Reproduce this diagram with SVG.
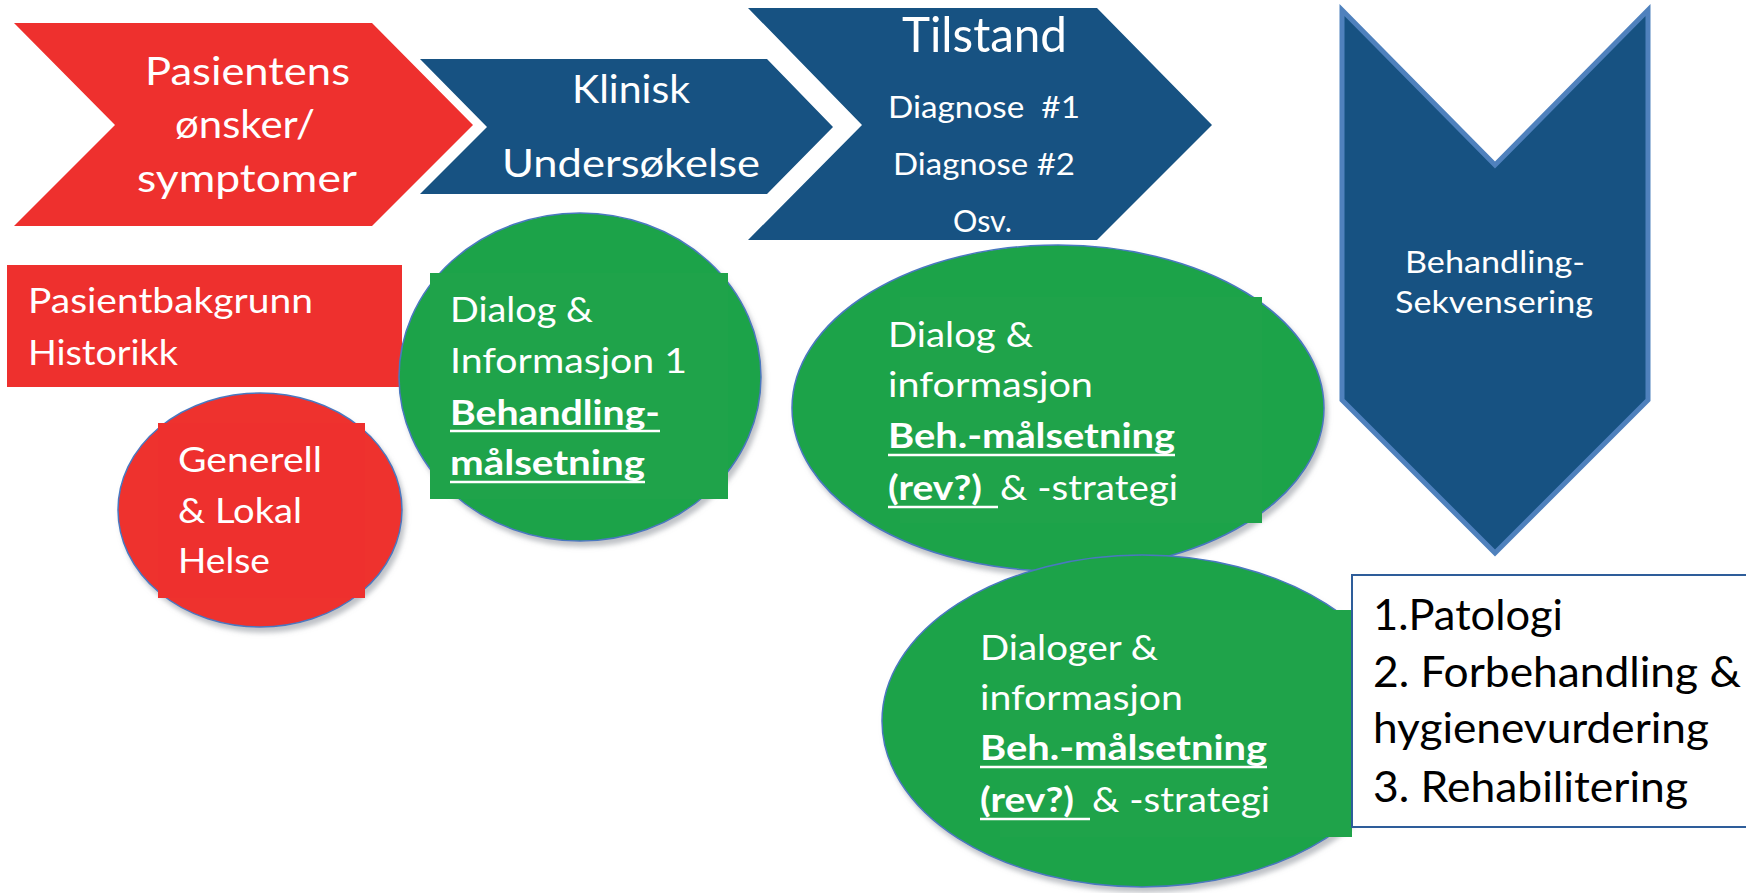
<svg xmlns="http://www.w3.org/2000/svg" width="1746" height="893" viewBox="0 0 1746 893">
<defs>
<style>
.red{fill:#ee302e}
.blue{fill:#175282}
.green{fill:#1fa34a}
.ell{stroke:#4a78c0;stroke-width:1.5}
.t{font-family:Lato,"Liberation Sans",sans-serif;fill:#ffffff;white-space:pre}
.b{font-weight:bold}
.dk{fill:#000000}
.ul{stroke:#ffffff;stroke-width:2.5}
</style>
<filter id="sh" x="-10%" y="-10%" width="125%" height="125%">
<feDropShadow dx="3" dy="5" stdDeviation="2.5" flood-color="#8a9099" flood-opacity="0.55"/>
</filter>
</defs>
<rect width="1746" height="893" fill="#ffffff"/>

<g id="chevron-pasientens">
<polygon class="red" points="14,23 372,23 473,125 372,226 14,226 115,125"/>
<text class="t" font-size="39" x="145" y="85" textLength="205" lengthAdjust="spacingAndGlyphs">Pasientens</text>
<text class="t" font-size="39" x="175" y="138" textLength="140" lengthAdjust="spacingAndGlyphs">ønsker/</text>
<text class="t" font-size="39" x="137" y="192" textLength="220" lengthAdjust="spacingAndGlyphs">symptomer</text>
</g>

<g id="chevron-klinisk">
<polygon class="blue" points="420,59 767,59 833,127 767,194 420,194 487,127"/>
<text class="t" font-size="39" x="572" y="103" textLength="118" lengthAdjust="spacingAndGlyphs">Klinisk</text>
<text class="t" font-size="39" x="502" y="177" textLength="258" lengthAdjust="spacingAndGlyphs">Undersøkelse</text>
</g>

<g id="chevron-tilstand">
<polygon class="blue" points="748,8 1097,8 1212,125 1097,240 748,240 862,125"/>
<text class="t" font-size="49" x="902" y="52" textLength="165" lengthAdjust="spacingAndGlyphs">Tilstand</text>
<text class="t" font-size="30" x="888" y="118" textLength="192" lengthAdjust="spacingAndGlyphs">Diagnose  #1</text>
<text class="t" font-size="30" x="893" y="175" textLength="182" lengthAdjust="spacingAndGlyphs">Diagnose #2</text>
<text class="t" font-size="30" x="953" y="232" textLength="59" lengthAdjust="spacingAndGlyphs">Osv.</text>
</g>

<g id="chevron-behandling">
<polygon class="blue" points="1342,10 1495,165 1648,10 1648,400 1495,553 1342,400" stroke="#4f81bd" stroke-width="5" stroke-linejoin="miter"/>
<text class="t" font-size="31" x="1405" y="273" textLength="180" lengthAdjust="spacingAndGlyphs">Behandling-</text>
<text class="t" font-size="31" x="1395" y="313" textLength="198" lengthAdjust="spacingAndGlyphs">Sekvensering</text>
</g>

<g id="pasientbakgrunn">
<rect class="red" x="7" y="265" width="395" height="122"/>
<text class="t" font-size="35" x="28" y="313" textLength="285" lengthAdjust="spacingAndGlyphs">Pasientbakgrunn</text>
<text class="t" font-size="35" x="28" y="365" textLength="150" lengthAdjust="spacingAndGlyphs">Historikk</text>
</g>

<g id="generell-helse">
<ellipse class="red ell" cx="260" cy="510" rx="142" ry="117" filter="url(#sh)"/>
<rect class="red" x="158" y="423" width="207" height="175"/>
<text class="t" font-size="35" x="178" y="472" textLength="144" lengthAdjust="spacingAndGlyphs">Generell</text>
<text class="t" font-size="35" x="178" y="523" textLength="124" lengthAdjust="spacingAndGlyphs">&amp; Lokal</text>
<text class="t" font-size="35" x="178" y="573" textLength="92" lengthAdjust="spacingAndGlyphs">Helse</text>
</g>

<g id="dialog-1">
<ellipse class="green ell" cx="580" cy="377" rx="181" ry="164" filter="url(#sh)"/>
<rect class="green" x="430" y="273" width="298" height="226"/>
<text class="t" font-size="35" x="450" y="322" textLength="143" lengthAdjust="spacingAndGlyphs">Dialog &amp;</text>
<text class="t" font-size="35" x="450" y="373" textLength="237" lengthAdjust="spacingAndGlyphs">Informasjon 1</text>
<text class="t b" font-size="35" x="450" y="425" textLength="210" lengthAdjust="spacingAndGlyphs">Behandling-</text>
<line class="ul" x1="450" y1="431" x2="660" y2="431"/>
<text class="t b" font-size="35" x="450" y="475" textLength="195" lengthAdjust="spacingAndGlyphs">målsetning</text>
<line class="ul" x1="450" y1="482" x2="645" y2="482"/>
</g>

<g id="dialog-2">
<ellipse class="green ell" cx="1058" cy="408" rx="266" ry="163" filter="url(#sh)"/>
<rect class="green" x="900" y="297" width="362" height="226"/>
<text class="t" font-size="35" x="888" y="347" textLength="145" lengthAdjust="spacingAndGlyphs">Dialog &amp;</text>
<text class="t" font-size="35" x="888" y="397" textLength="205" lengthAdjust="spacingAndGlyphs">informasjon</text>
<text class="t b" font-size="35" x="888" y="448" textLength="287" lengthAdjust="spacingAndGlyphs">Beh.-målsetning</text>
<line class="ul" x1="888" y1="455" x2="1175" y2="455"/>
<text class="t b" font-size="35" x="888" y="500" textLength="94" lengthAdjust="spacingAndGlyphs">(rev?)</text>
<line class="ul" x1="888" y1="507" x2="998" y2="507"/>
<text class="t" font-size="35" x="1000" y="500" textLength="178" lengthAdjust="spacingAndGlyphs">&amp; -strategi</text>
</g>

<g id="dialog-3">
<ellipse class="green ell" cx="1142" cy="721" rx="260" ry="166" filter="url(#sh)"/>
<rect class="green" x="1000" y="610" width="352" height="227"/>
<text class="t" font-size="35" x="980" y="660" textLength="178" lengthAdjust="spacingAndGlyphs">Dialoger &amp;</text>
<text class="t" font-size="35" x="980" y="710" textLength="203" lengthAdjust="spacingAndGlyphs">informasjon</text>
<text class="t b" font-size="35" x="980" y="760" textLength="287" lengthAdjust="spacingAndGlyphs">Beh.-målsetning</text>
<line class="ul" x1="980" y1="767" x2="1267" y2="767"/>
<text class="t b" font-size="35" x="980" y="812" textLength="94" lengthAdjust="spacingAndGlyphs">(rev?)</text>
<line class="ul" x1="980" y1="819" x2="1090" y2="819"/>
<text class="t" font-size="35" x="1092" y="812" textLength="178" lengthAdjust="spacingAndGlyphs">&amp; -strategi</text>
</g>

<g id="sekvens-liste">
<rect x="1352" y="575" width="400" height="252" fill="#ffffff" stroke="#2e5d9a" stroke-width="2"/>
<text class="t dk" font-size="42" x="1373" y="630" textLength="190" lengthAdjust="spacingAndGlyphs">1.Patologi</text>
<text class="t dk" font-size="42" x="1373" y="687" textLength="368" lengthAdjust="spacingAndGlyphs">2. Forbehandling &amp;</text>
<text class="t dk" font-size="42" x="1373" y="743" textLength="336" lengthAdjust="spacingAndGlyphs">hygienevurdering</text>
<text class="t dk" font-size="42" x="1373" y="802" textLength="315" lengthAdjust="spacingAndGlyphs">3. Rehabilitering</text>
</g>

<g id="connectors"></g>
</svg>
